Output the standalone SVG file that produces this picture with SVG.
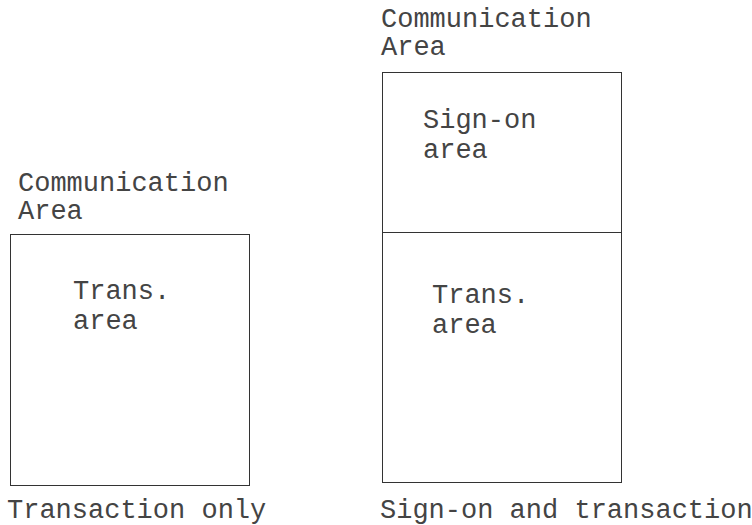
<svg xmlns="http://www.w3.org/2000/svg" width="752" height="525" viewBox="0 0 752 525">
<style>
text{font-family:"Liberation Mono","Courier New",monospace;font-size:27px;fill:#444}
.box{fill:none;stroke:#333;stroke-width:1}
</style>
<rect width="752" height="525" fill="#fff"/>
<g id="left">
<text x="18" y="191">Communication</text>
<text x="18" y="219">Area</text>
<rect class="box" x="10.5" y="234.5" width="239" height="251"/>
<text x="73" y="299">Trans.</text>
<text x="73" y="329">area</text>
<text x="7" y="518">Transaction only</text>
</g>
<g id="right">
<text x="381" y="27">Communication</text>
<text x="381" y="55">Area</text>
<rect class="box" x="382.5" y="72.5" width="239" height="410"/>
<line class="box" x1="382.5" y1="232.5" x2="621.5" y2="232.5"/>
<text x="423" y="128">Sign-on</text>
<text x="423" y="158">area</text>
<text x="432" y="303">Trans.</text>
<text x="432" y="333">area</text>
<text x="380" y="518">Sign-on and transaction</text>
</g>
<g id="connectors"></g>
</svg>
